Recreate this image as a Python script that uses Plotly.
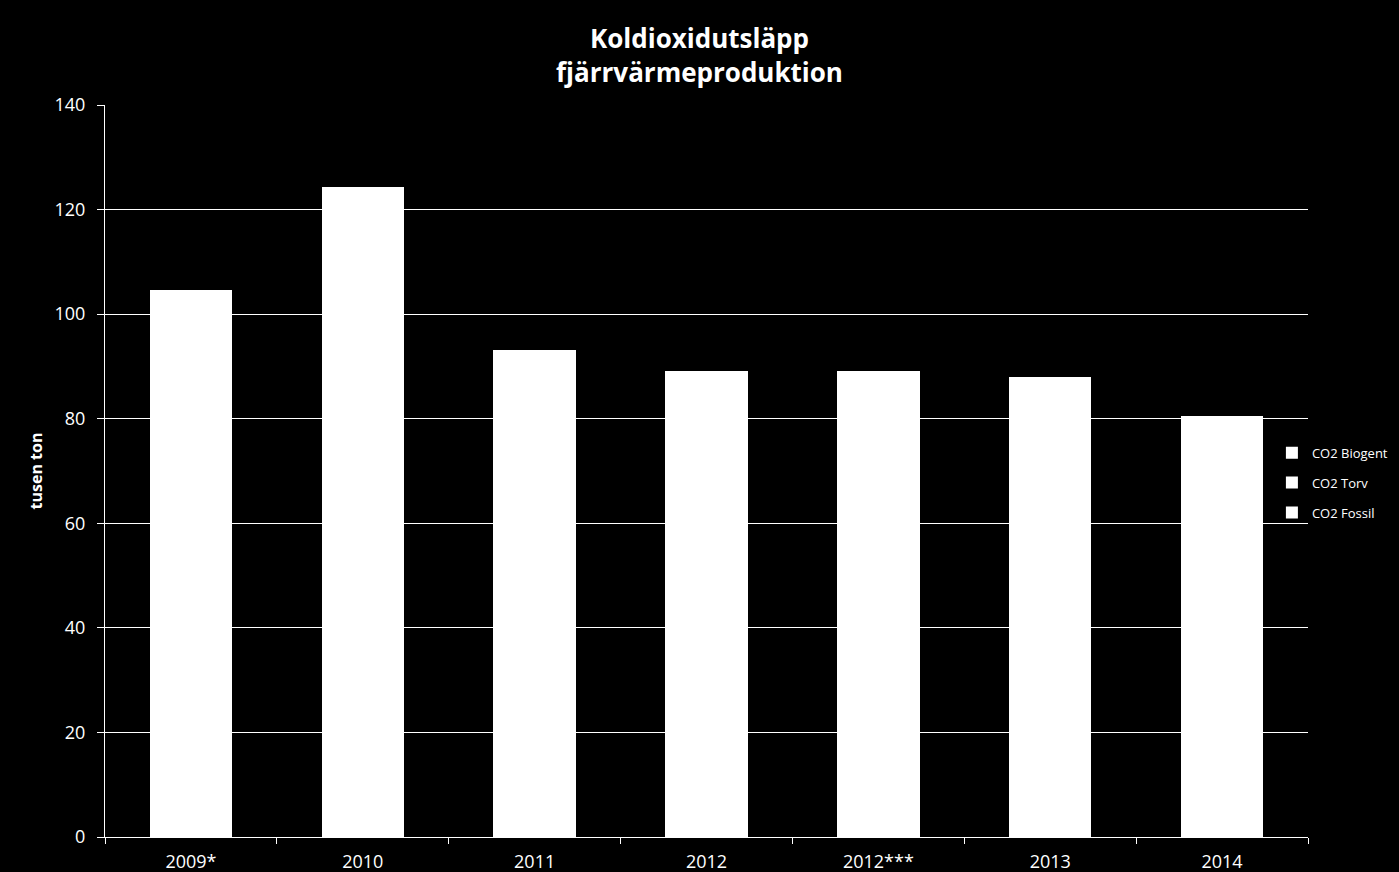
import plotly.graph_objects as go

years = ["2009*", "2010", "2011", "2012", "2012***", "2013", "2014"]

# all three stack segments are drawn white in the source, so only the totals
# can be read off; the split between them is not visible
co2_fossil = [104.6, 124.3, 93.1, 89.1, 89.1, 88.0, 80.5]
co2_torv = [0, 0, 0, 0, 0, 0, 0]
co2_biogent = [0, 0, 0, 0, 0, 0, 0]

FONT = "Open Sans"

fig = go.Figure()
series = (("CO2 Fossil", co2_fossil, 3), ("CO2 Torv", co2_torv, 2), ("CO2 Biogent", co2_biogent, 1))
for name, vals, rank in series:
    fig.add_trace(
        go.Bar(
            x=years,
            y=vals,
            name=name,
            legendgroup=name,
            legendrank=rank,
            marker=dict(color="white", line=dict(width=0)),
        )
    )

fig.update_layout(
    width=1399,
    height=872,
    barmode="stack",
    bargap=0.52,
    paper_bgcolor="black",
    plot_bgcolor="black",
    font=dict(family=FONT, color="white", size=18),
    margin=dict(l=105, r=91, t=105, b=35, autoexpand=False),
    title=dict(
        text="<b>Koldioxidutsläpp<br>fjärrvärmeproduktion</b>",
        x=0.5,
        xanchor="center",
        y=0.945,
        yanchor="middle",
        font=dict(size=26, color="white", family=FONT),
    ),
    legend=dict(
        x=0.97,
        xanchor="left",
        y=0.484,
        yanchor="middle",
        traceorder="grouped",
        tracegroupgap=10,
        font=dict(size=13, color="white", family=FONT),
        bgcolor="rgba(0,0,0,0)",
    ),
    showlegend=True,
)

fig.update_xaxes(
    type="category",
    showline=True,
    linecolor="white",
    linewidth=1,
    ticks="outside",
    tickson="boundaries",
    ticklen=6,
    tickcolor="white",
    showgrid=False,
    ticklabelstandoff=8,
    tickfont=dict(size=18, color="white"),
)
fig.update_yaxes(
    range=[0, 140],
    dtick=20,
    showline=True,
    linecolor="white",
    linewidth=1,
    ticks="outside",
    ticklen=7,
    tickcolor="white",
    showgrid=True,
    gridcolor="white",
    gridwidth=1,
    zeroline=False,
    ticklabelstandoff=8,
    tickfont=dict(size=18, color="white"),
    title=dict(text="<b>tusen ton</b>", font=dict(size=16, color="white"), standoff=7),
)

fig.write_html(
    "out.html",
    config={"displayModeBar": False},
    post_script="document.body.style.margin='0';",
)
